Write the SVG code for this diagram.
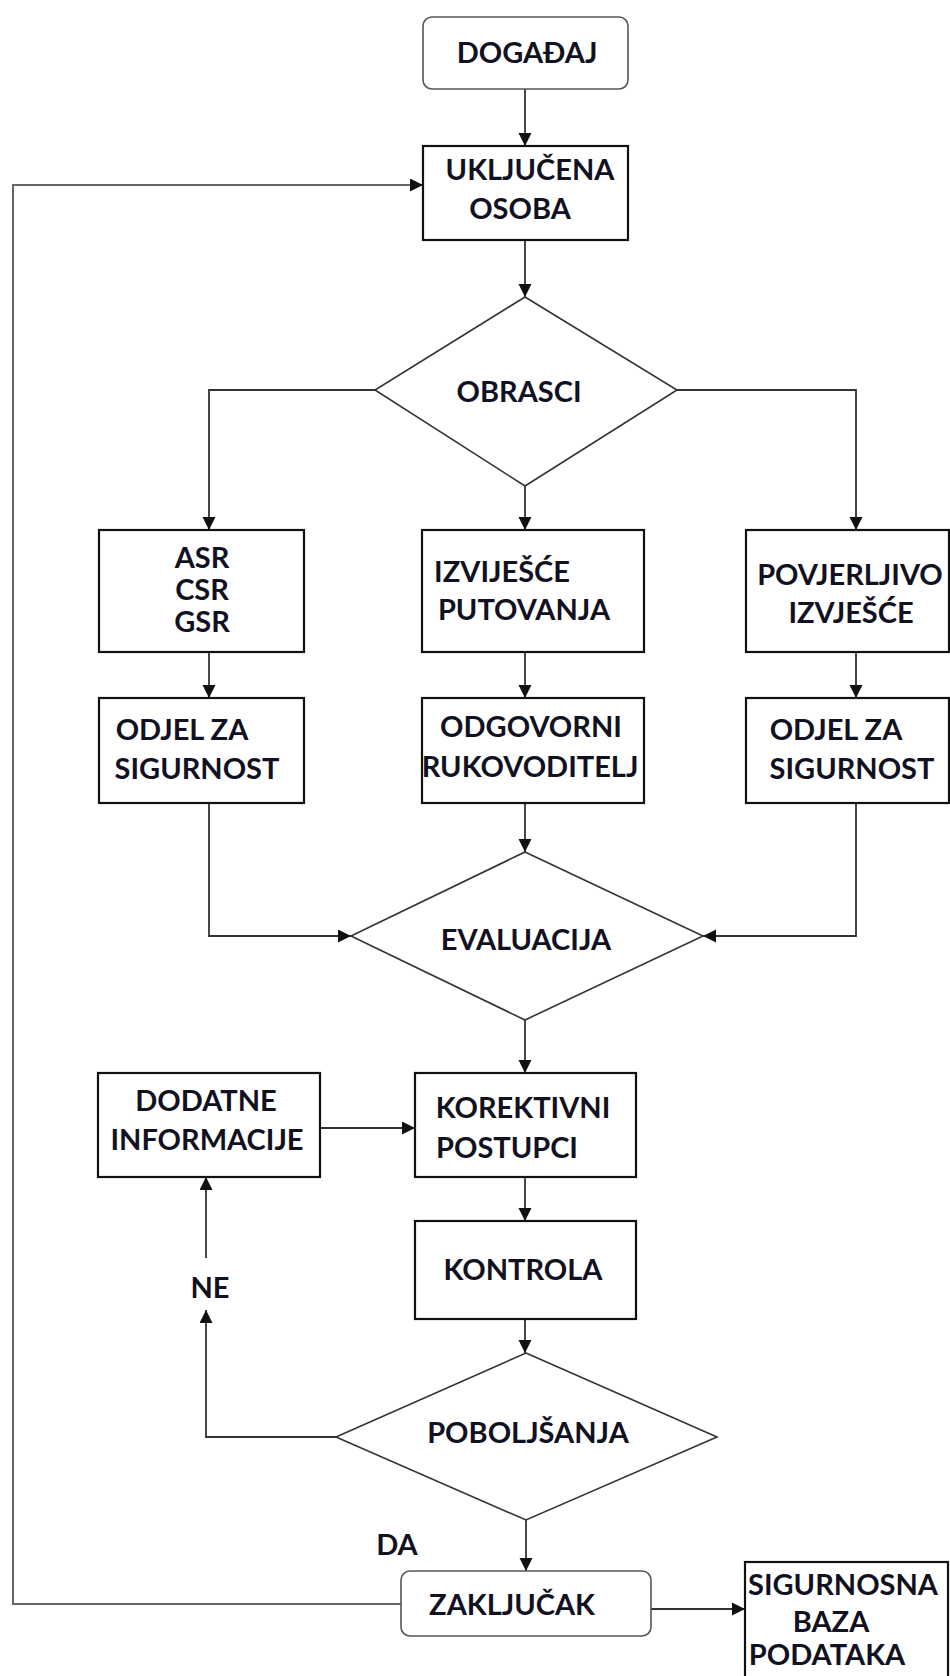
<svg xmlns="http://www.w3.org/2000/svg" width="950" height="1676" viewBox="0 0 950 1676">
  <style>
    .box { fill: #ffffff; stroke: #111111; stroke-width: 2.2; }
    .rbox { fill: #ffffff; stroke: #555555; stroke-width: 1.6; }
    .dia { fill: #ffffff; stroke: #333333; stroke-width: 1.6; }
    .lbl { font-family: "Lato", "Open Sans", "Liberation Sans", sans-serif; font-weight: bold; font-size: 29px; fill: #111122; text-anchor: middle; }
    .edge { fill: none; stroke: #333333; stroke-width: 1.8; }
    .loop { fill: none; stroke: #666666; stroke-width: 2; }
  </style>
  <defs>
    <marker id="arrow" markerUnits="userSpaceOnUse" markerWidth="14" markerHeight="14" refX="13" refY="6.5" orient="auto">
      <path d="M0,0 L13,6.5 L0,13 Z" fill="#111111"/>
    </marker>
  </defs>
  <rect width="950" height="1676" fill="#ffffff"/>

  <!-- connectors -->
  <g id="connectors">
    <path class="edge" d="M525,89 V146" marker-end="url(#arrow)"/>
    <path class="edge" d="M525,240 V297" marker-end="url(#arrow)"/>
    <path class="edge" d="M375,390 H209 V530" marker-end="url(#arrow)"/>
    <path class="edge" d="M677,390 H856 V530" marker-end="url(#arrow)"/>
    <path class="edge" d="M525,486 V530" marker-end="url(#arrow)"/>
    <path class="edge" d="M209,652 V698" marker-end="url(#arrow)"/>
    <path class="edge" d="M525,652 V698" marker-end="url(#arrow)"/>
    <path class="edge" d="M856,652 V698" marker-end="url(#arrow)"/>
    <path class="edge" d="M525,803 V852" marker-end="url(#arrow)"/>
    <path class="edge" d="M209,803 V936 H351" marker-end="url(#arrow)"/>
    <path class="edge" d="M856,803 V936 H703" marker-end="url(#arrow)"/>
    <path class="edge" d="M525,1020 V1073" marker-end="url(#arrow)"/>
    <path class="edge" d="M320,1128 H415" marker-end="url(#arrow)"/>
    <path class="edge" d="M525,1177 V1221" marker-end="url(#arrow)"/>
    <path class="edge" d="M525,1319 V1353" marker-end="url(#arrow)"/>
    <path class="edge" d="M336,1437 H206 V1310" marker-end="url(#arrow)"/>
    <path class="edge" d="M206,1258 V1177" marker-end="url(#arrow)"/>
    <path class="edge" d="M526,1520 V1571" marker-end="url(#arrow)"/>
    <path class="edge" d="M651,1609 H745" marker-end="url(#arrow)"/>
    <path class="loop" d="M401,1604 H13 V185 H423" marker-end="url(#arrow)"/>
    <text class="lbl" x="210" y="1298">NE</text>
    <text class="lbl" x="397" y="1555">DA</text>
  </g>

  <g id="dogadaj">
    <rect class="rbox" x="423" y="17" width="205" height="72" rx="9"/>
    <text class="lbl" x="527" y="63">DOGAĐAJ</text>
  </g>

  <g id="ukljucena-osoba">
    <rect class="box" x="423" y="146" width="205" height="94"/>
    <text class="lbl" x="530" y="180">UKLJUČENA</text>
    <text class="lbl" x="520" y="219">OSOBA</text>
  </g>

  <g id="obrasci">
    <polygon class="dia" points="525,297 677,390 525,486 375,390"/>
    <text class="lbl" x="519" y="402">OBRASCI</text>
  </g>

  <g id="asr-csr-gsr">
    <rect class="box" x="99" y="530" width="205" height="122"/>
    <text class="lbl" x="202" y="568">ASR</text>
    <text class="lbl" x="202" y="600">CSR</text>
    <text class="lbl" x="202" y="632">GSR</text>
  </g>

  <g id="izvjesce-putovanja">
    <rect class="box" x="422" y="530" width="222" height="122"/>
    <text class="lbl" x="502" y="582">IZVIJEŠĆE</text>
    <text class="lbl" x="524" y="620">PUTOVANJA</text>
  </g>

  <g id="povjerljivo-izvjesce">
    <rect class="box" x="746" y="530" width="203" height="122"/>
    <text class="lbl" x="850" y="585">POVJERLJIVO</text>
    <text class="lbl" x="851" y="623">IZVJEŠĆE</text>
  </g>

  <g id="odjel-lijevo">
    <rect class="box" x="99" y="698" width="205" height="105"/>
    <text class="lbl" x="182" y="740">ODJEL ZA</text>
    <text class="lbl" x="197" y="779">SIGURNOST</text>
  </g>

  <g id="odgovorni-rukovoditelj">
    <rect class="box" x="422" y="698" width="222" height="105"/>
    <text class="lbl" x="531" y="737">ODGOVORNI</text>
    <text class="lbl" x="530" y="777">RUKOVODITELJ</text>
  </g>

  <g id="odjel-desno">
    <rect class="box" x="746" y="698" width="203" height="105"/>
    <text class="lbl" x="836" y="740">ODJEL ZA</text>
    <text class="lbl" x="852" y="779">SIGURNOST</text>
  </g>

  <g id="evaluacija">
    <polygon class="dia" points="525,852 703,936 525,1020 351,936"/>
    <text class="lbl" x="526" y="950">EVALUACIJA</text>
  </g>

  <g id="dodatne-informacije">
    <rect class="box" x="98" y="1073" width="222" height="104"/>
    <text class="lbl" x="206" y="1111">DODATNE</text>
    <text class="lbl" x="207" y="1150">INFORMACIJE</text>
  </g>

  <g id="korektivni-postupci">
    <rect class="box" x="415" y="1073" width="221" height="104"/>
    <text class="lbl" x="523" y="1118">KOREKTIVNI</text>
    <text class="lbl" x="507" y="1158">POSTUPCI</text>
  </g>

  <g id="kontrola">
    <rect class="box" x="415" y="1221" width="221" height="98"/>
    <text class="lbl" x="523" y="1280">KONTROLA</text>
  </g>

  <g id="poboljsanja">
    <polygon class="dia" points="526,1353 717,1437 526,1520 336,1437"/>
    <text class="lbl" x="528" y="1443">POBOLJŠANJA</text>
  </g>

  <g id="zakljucak">
    <rect class="rbox" x="401" y="1571" width="250" height="65" rx="9"/>
    <text class="lbl" x="512" y="1615">ZAKLJUČAK</text>
  </g>

  <g id="sigurnosna-baza">
    <rect class="box" x="745" y="1562" width="203" height="125"/>
    <text class="lbl" x="843" y="1595">SIGURNOSNA</text>
    <text class="lbl" x="831" y="1632">BAZA</text>
    <text class="lbl" x="827" y="1665">PODATAKA</text>
  </g>
</svg>
